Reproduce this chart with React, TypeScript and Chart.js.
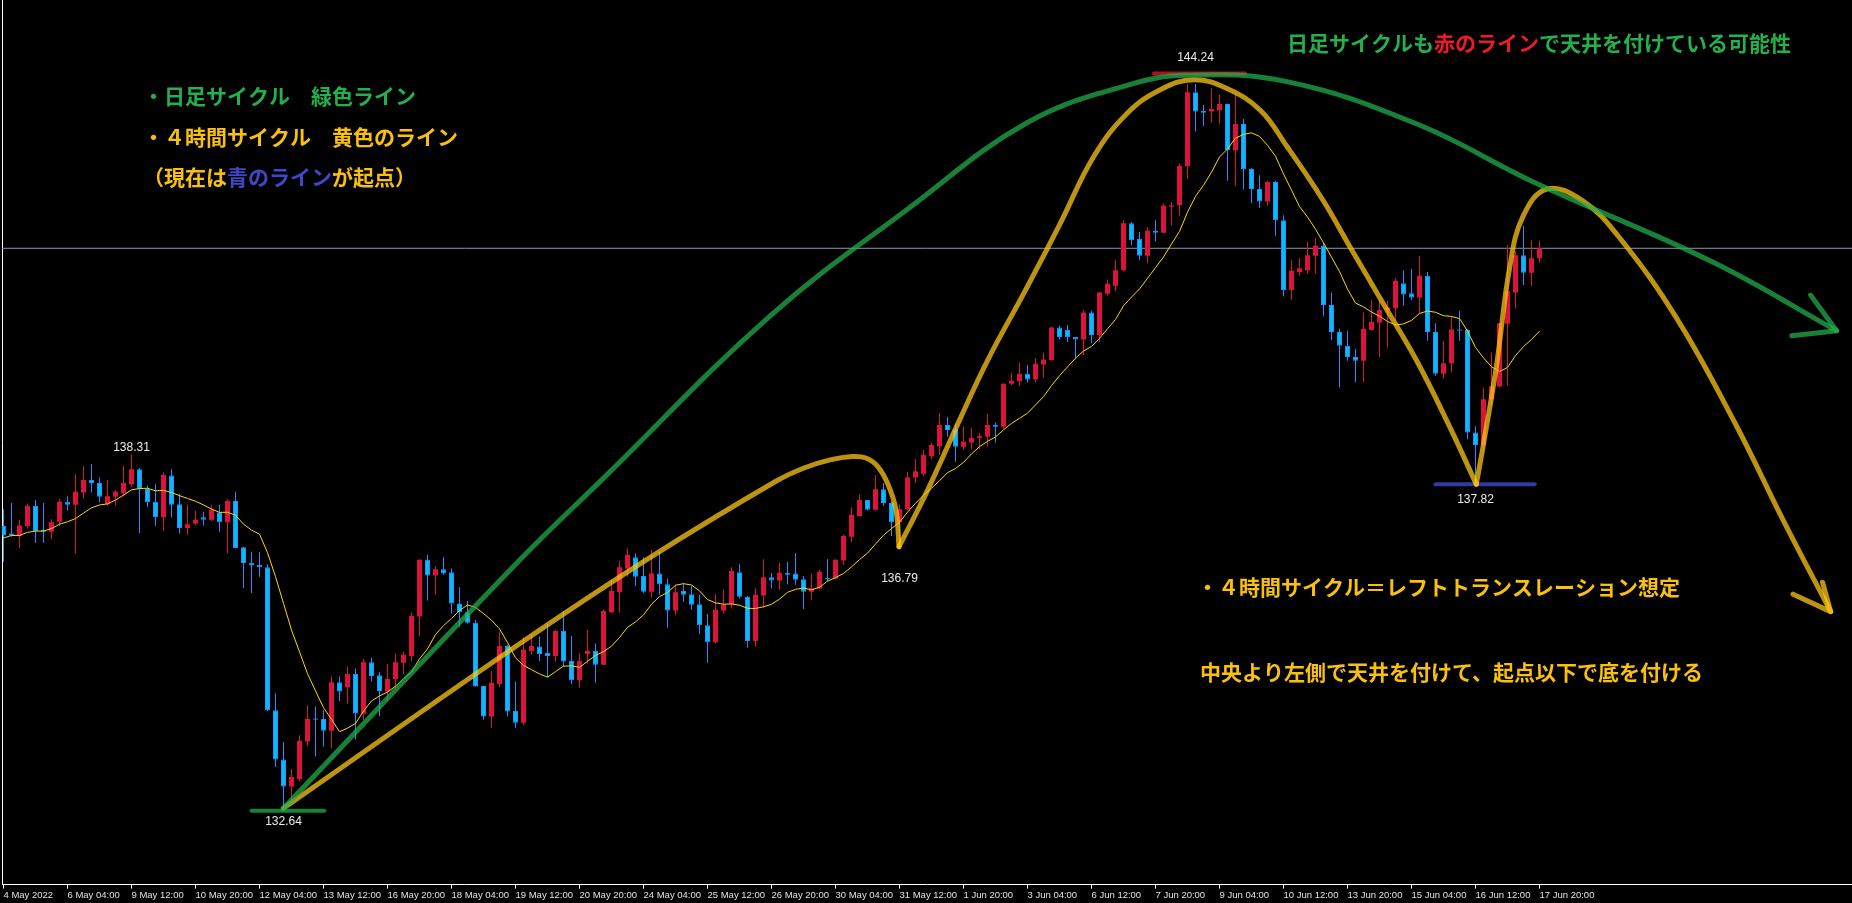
import React, { useEffect, useRef } from 'react';
import { Chart, registerables } from 'chart.js';

Chart.register(...registerables);

// ---------- DATA (EURJPY H4) ----------
const opens = [
  137.16,137.04,137.00,137.16,137.48,137.10,137.07,137.23,137.55,137.50,
  137.70,137.90,137.85,137.51,137.63,137.69,137.83,138.07,137.76,137.55,
  137.30,137.97,137.51,137.13,137.20,137.30,137.26,137.38,137.22,137.56,
  136.82,136.57,136.54,136.50,134.21,133.42,132.99,133.11,133.71,134.08,
  134.07,133.88,134.66,134.58,134.79,134.16,134.98,134.77,134.51,134.71,
  134.97,135.08,135.71,136.62,136.37,136.47,136.42,135.92,135.78,135.61,
  134.60,134.11,134.63,135.24,134.20,134.01,135.16,135.23,135.13,135.08,
  135.48,135.00,134.69,135.11,135.16,134.94,135.78,136.10,136.48,136.66,
  136.36,136.11,136.40,136.23,135.81,136.12,136.07,135.91,135.57,135.30,
  135.81,135.91,136.42,136.03,135.32,136.05,136.34,136.29,136.41,136.40,
  136.31,136.11,136.16,136.33,136.32,136.61,136.99,137.32,137.58,137.42,
  137.75,137.53,137.22,137.43,137.94,138.00,138.28,138.44,138.78,138.71,
  138.43,138.50,138.57,138.59,138.78,138.75,139.44,139.48,139.60,139.51,
  139.75,139.82,140.34,140.30,140.19,140.15,140.58,140.22,140.88,141.01,
  141.26,142.01,141.76,141.49,141.89,141.86,142.28,142.30,142.93,144.11,
  143.81,143.80,143.82,143.92,143.18,143.60,142.88,142.56,142.36,142.67,
  142.06,140.94,141.23,141.26,141.49,141.65,140.70,140.27,140.05,139.87,
  139.81,140.30,140.42,140.62,140.65,141.05,140.89,140.82,141.17,140.27,
  139.60,139.77,140.31,140.30,138.66,138.46,139.19,139.40,140.40,140.90,
  141.50,141.22,141.45,
];
const highs = [
  137.43,137.53,137.26,137.52,137.58,137.53,137.27,137.60,137.64,137.99,
  138.12,138.15,137.94,137.90,137.74,138.12,138.31,138.09,137.81,137.83,
  138.02,138.07,137.68,137.50,137.40,137.39,137.50,137.50,137.59,137.71,
  136.83,136.74,136.74,136.55,134.48,133.70,133.27,133.81,134.29,134.27,
  134.21,134.75,134.75,134.91,134.88,135.03,135.05,134.82,134.95,135.12,
  135.15,135.78,136.63,136.70,136.52,136.66,136.48,136.18,135.96,135.66,
  134.60,134.84,135.47,135.26,134.67,135.38,135.43,135.39,135.59,135.50,
  135.80,135.40,135.12,135.50,135.28,135.83,136.30,136.60,136.80,136.72,
  136.66,136.78,136.75,136.32,136.22,136.24,136.20,136.06,135.75,136.07,
  136.15,136.50,136.55,136.04,136.16,136.63,136.41,136.57,136.59,136.73,
  136.36,136.40,136.46,136.63,136.63,137.02,137.46,137.67,137.58,137.98,
  137.85,137.55,137.51,138.03,138.23,138.38,138.50,138.97,138.91,138.80,
  138.76,138.73,138.65,138.96,138.82,139.45,139.61,139.78,139.74,139.85,
  139.94,140.35,140.37,140.38,140.19,140.62,140.61,140.91,141.11,141.42,
  142.06,142.03,141.87,141.95,142.06,142.33,142.35,142.97,144.24,144.24,
  143.91,144.17,144.07,143.93,144.08,143.68,142.89,142.78,142.69,142.69,
  142.14,141.42,141.45,141.72,141.78,141.70,140.90,140.32,140.29,140.00,
  140.58,140.78,140.78,140.77,141.13,141.26,141.28,141.49,141.23,140.41,
  140.13,140.51,140.61,140.31,138.76,139.37,139.94,140.41,141.66,141.56,
  141.97,141.74,141.73,
];
const lows = [
  136.59,136.99,136.81,137.12,136.89,136.89,136.95,137.16,137.41,136.72,
  137.60,137.70,137.54,137.49,137.49,137.64,137.79,137.05,137.46,137.16,
  137.08,137.30,137.04,137.02,137.17,137.17,137.24,137.07,136.73,136.81,
  136.17,136.09,136.35,134.20,133.30,132.64,132.77,133.07,133.64,133.47,
  133.63,133.60,134.36,134.32,133.74,134.05,134.67,134.12,134.36,134.56,
  134.79,135.00,135.40,135.97,136.06,136.38,135.76,135.55,135.60,134.59,
  134.06,133.93,134.58,134.11,133.92,133.97,135.10,135.00,134.74,134.99,
  134.91,134.63,134.57,134.96,134.65,134.94,135.77,135.77,136.35,136.20,
  136.09,136.02,136.06,135.53,135.73,135.95,135.82,135.43,134.97,135.28,
  135.76,135.84,136.00,135.21,135.23,135.84,136.16,136.14,136.23,136.22,
  135.83,135.98,136.15,136.27,136.31,136.54,136.90,137.31,137.41,137.41,
  137.48,137.00,136.79,137.41,137.85,137.96,138.23,138.30,138.59,138.19,
  138.38,138.39,138.39,138.44,138.50,138.72,139.42,139.40,139.46,139.46,
  139.54,139.81,140.15,140.11,139.83,139.90,140.09,140.11,140.85,140.92,
  141.25,141.66,141.42,141.37,141.72,141.86,141.98,142.13,142.72,143.48,
  143.57,143.62,143.61,142.69,142.61,142.55,142.33,142.26,142.29,141.81,
  140.84,140.78,141.17,141.20,141.20,140.52,140.14,139.38,139.81,139.47,
  139.47,140.29,139.87,140.02,140.45,140.69,140.78,140.57,140.13,139.57,
  139.52,139.62,140.13,138.55,137.82,138.41,139.10,139.38,139.41,140.65,
  141.02,141.00,141.38,
];
const closes = [
  137.01,137.01,137.17,137.48,137.08,137.07,137.22,137.55,137.50,137.71,
  137.90,137.85,137.63,137.64,137.71,137.85,138.07,137.76,137.54,137.30,
  137.98,137.50,137.13,137.19,137.26,137.26,137.42,137.22,137.56,136.81,
  136.57,136.53,136.50,134.21,133.42,132.99,133.14,133.72,134.07,134.06,
  133.88,134.66,134.51,134.79,134.16,134.98,134.76,134.52,134.71,134.98,
  135.10,135.72,136.62,136.37,136.47,136.40,135.92,135.78,135.61,134.59,
  134.11,134.65,135.24,134.19,134.01,135.18,135.24,135.11,135.08,135.48,
  134.99,134.69,135.00,135.16,134.94,135.80,136.12,136.50,136.70,136.35,
  136.11,136.40,136.23,135.81,136.10,136.06,135.90,135.57,135.30,135.82,
  135.90,136.44,136.03,135.32,136.06,136.34,136.29,136.41,136.38,136.30,
  136.11,136.16,136.43,136.31,136.62,137.00,137.34,137.58,137.42,137.75,
  137.53,137.22,137.43,137.94,138.04,138.30,138.46,138.78,138.70,138.43,
  138.51,138.57,138.60,138.78,138.75,139.44,139.49,139.60,139.51,139.76,
  139.83,140.34,140.19,140.19,140.15,140.58,140.22,140.90,141.04,141.26,
  142.01,141.74,141.49,141.89,141.86,142.29,142.30,142.93,144.11,143.80,
  143.78,143.84,143.92,143.18,143.60,142.88,142.56,142.36,142.67,142.06,
  140.94,141.25,141.29,141.50,141.65,140.70,140.27,140.05,139.87,139.81,
  140.32,140.43,140.62,140.66,141.09,140.87,140.82,141.17,140.27,139.60,
  139.77,140.31,140.29,138.66,138.46,139.19,139.40,140.41,140.92,141.50,
  141.22,141.45,141.61,
];

// moving average (period 10); values before the first full window
const MA_PERIOD = 10;
const maLead = [136.97, 137.01, 137.01, 137.06, 137.08, 137.08, 137.12, 137.19, 137.23];

// x-axis labels, one every 8 bars
const TICK_STEP = 8;
const tickLabels = [
  '4 May 2022', '6 May 04:00', '9 May 12:00', '10 May 20:00', '12 May 04:00', '13 May 12:00',
  '16 May 20:00', '18 May 04:00', '19 May 12:00', '20 May 20:00', '24 May 04:00', '25 May 12:00',
  '26 May 20:00', '30 May 04:00', '31 May 12:00', '1 Jun 20:00', '3 Jun 04:00', '6 Jun 12:00',
  '7 Jun 20:00', '9 Jun 04:00', '10 Jun 12:00', '13 Jun 20:00', '15 Jun 04:00', '16 Jun 12:00',
  '17 Jun 20:00',
];

// marked highs / lows: bar index and price
const markIdx = [16, 35, 112, 149, 184];
const markValue = [138.31, 132.64, 136.79, 144.24, 137.82];

// hand-drawn cycle lines: [bar index, price]
const greenArcPts = [
  [35.0, 132.64], [64.56, 136.62], [74.78, 137.90], [95.94, 140.54],
  [113.25, 142.26], [127.94, 143.62], [140.44, 144.22], [147.94, 144.38], [160.44, 144.28],
  [176.69, 143.60], [191.44, 142.66], [213.64, 141.39], [229.14, 140.29],
];
const greenArrowPts = [[225.89, 140.86], [229.14, 140.29], [223.53, 140.21]];
const greenBasePts = [[31.0, 132.60], [40.1, 132.60]];
const yellowAPts = [
  [34.98, 132.64], [64.56, 135.28], [80.6, 136.64], [96.44, 137.87], [100.06, 138.09],
  [103.31, 138.22], [106.06, 138.275], [107.81, 138.25], [109.31, 138.11], [110.56, 137.83],
  [111.56, 137.42], [111.94, 136.83],
];
const yellowBPts = [
  [111.94, 136.83], [115.53, 137.74], [119.69, 138.91], [123.03, 139.82], [127.75, 140.94],
  [132.1, 142.01], [136.28, 143.08], [140.44, 143.77], [144.6, 144.15], [148.78, 144.31],
  [152.94, 144.17], [157.1, 143.82], [160.44, 143.24], [164.94, 142.38], [168.28, 141.64],
  [172.44, 140.73], [176.6, 139.82], [180.78, 138.75], [184.1, 137.83],
];
const yellowCPts = [
  [184.1, 137.83], [184.94, 138.43], [186.6, 139.71], [188.28, 141.31], [189.94, 142.12],
  [192.94, 142.56], [197.4, 142.37], [201.81, 141.81], [209.19, 140.48], [216.56, 138.78],
  [222.44, 137.26], [228.4, 135.79],
];
const yellowArrowPts = [[223.69, 136.07], [228.4, 135.79], [227.38, 136.26]];
const redTopPts = [[143.8, 144.41], [155.2, 144.41]];
const blueBasePts = [[179.0, 137.83], [191.4, 137.83]];

// notes (text segments and colour keys)
const noteLines = [
  [['・日足サイクル　緑色ライン', 'green']],
  [['・４時間サイクル　黄色のライン', 'gold']],
  [['（現在は', 'gold'], ['青のライン', 'blue'], ['が起点）', 'gold']],
  [['日足サイクルも', 'green'], ['赤のライン', 'red'], ['で天井を付けている可能性', 'green']],
  [['・４時間サイクル＝レフトトランスレーション想定', 'gold']],
  [['中央より左側で天井を付けて、起点以下で底を付ける', 'gold']],
];

// ---------- STYLE / LAYOUT ----------
const W = 1852;
const H = 903;
const X_MIN = -0.1875;
const X_MAX = 231.0625;
const Y_MIN = 131.4167;
const Y_MAX = 145.587;
const textColors: Record<string, string> = {
  green: '#22B14C', gold: '#F9C00C', blue: '#3F48CC', red: '#ED1C24',
};
const notePos = [[143, 96], [143, 137], [143, 177], [1287, 43], [1197, 587], [1200, 672]];
const markDy = [-7, 13.5, 29.5, -26, 15];

const UP_BODY = '#DC143C';
const DOWN_BODY = '#00BFFF';
const DOWN_WICK = '#1E90FF';
const GREEN_LINE = 'rgba(34,177,76,0.72)';
const YELLOW_LINE = 'rgba(255,200,20,0.74)';

const toXY = (pts: number[][]) => pts.map(([x, y]) => ({ x, y }));

const overlayPlugin = {
  id: 'overlayText',
  afterDatasetsDraw(chart: any) {
    const { ctx, scales } = chart;
    const xs = scales.x;
    const ys = scales.y;
    ctx.save();
    ctx.font = '12px "Liberation Sans", Arial, sans-serif';
    ctx.fillStyle = '#ececec';
    ctx.textAlign = 'center';
    ctx.textBaseline = 'middle';
    markIdx.forEach((m, k) => {
      ctx.fillText(markValue[k].toFixed(2), xs.getPixelForValue(m), ys.getPixelForValue(markValue[k]) + markDy[k]);
    });
    ctx.font = 'bold 21px "Noto Sans CJK JP", "Noto Sans CJK SC", sans-serif';
    ctx.textAlign = 'left';
    noteLines.forEach((segs, k) => {
      let px = notePos[k][0];
      const py = notePos[k][1];
      segs.forEach(([t, c]) => {
        ctx.fillStyle = textColors[c];
        ctx.fillText(t, px, py);
        px += ctx.measureText(t).width;
      });
    });
    ctx.restore();
  },
};

export default function App() {
  const ref = useRef<HTMLCanvasElement | null>(null);

  useEffect(() => {
    document.body.style.margin = '0';
    document.body.style.background = '#000';
    if (!ref.current) return;

    const idx = closes.map((_, i) => i);
    const up = idx.map((i) => closes[i] >= opens[i]);
    const maValues = idx.map((i) => {
      if (i < MA_PERIOD - 1) return maLead[i];
      let s = 0;
      for (let k = i - MA_PERIOD + 1; k <= i; k++) s += closes[k];
      return s / MA_PERIOD;
    });
    const lastClose = closes[closes.length - 1];
    const tickValues = tickLabels.map((_, k) => k * TICK_STEP);

    const lineBase = {
      type: 'line' as const,
      pointRadius: 0,
      fill: false,
      borderCapStyle: 'round' as const,
      borderJoinStyle: 'round' as const,
    };

    const chart = new Chart(ref.current, {
      type: 'bar',
      data: {
        datasets: [
          // hand-drawn annotations (top)
          { ...lineBase, data: toXY(greenArcPts), borderColor: GREEN_LINE, borderWidth: 5, tension: 0.4, order: 0 },
          { ...lineBase, data: toXY(greenArrowPts), borderColor: GREEN_LINE, borderWidth: 5, tension: 0, order: 0 },
          { ...lineBase, data: toXY(greenBasePts), borderColor: GREEN_LINE, borderWidth: 4, tension: 0, order: 0 },
          { ...lineBase, data: toXY(yellowAPts), borderColor: YELLOW_LINE, borderWidth: 5, tension: 0.4, order: 0 },
          { ...lineBase, data: toXY(yellowBPts), borderColor: YELLOW_LINE, borderWidth: 5, tension: 0.4, order: 0 },
          { ...lineBase, data: toXY(yellowCPts), borderColor: YELLOW_LINE, borderWidth: 5, tension: 0.4, order: 0 },
          { ...lineBase, data: toXY(yellowArrowPts), borderColor: YELLOW_LINE, borderWidth: 5, tension: 0, order: 0 },
          { ...lineBase, data: toXY(redTopPts), borderColor: 'rgba(237,28,36,0.72)', borderWidth: 4, tension: 0, order: 0 },
          { ...lineBase, data: toXY(blueBasePts), borderColor: 'rgba(63,72,204,0.8)', borderWidth: 4, tension: 0, order: 0 },
          // moving average
          { ...lineBase, data: idx.map((i) => ({ x: i, y: maValues[i] })), borderColor: '#FFD700', borderWidth: 1, tension: 0, order: 1 },
          // candle bodies
          {
            type: 'bar' as const,
            data: idx.map((i) => ({ x: i, y: [opens[i], closes[i]] })) as any,
            backgroundColor: idx.map((i) => (up[i] ? UP_BODY : DOWN_BODY)),
            borderColor: idx.map((i) => (up[i] ? UP_BODY : DOWN_WICK)),
            borderWidth: idx.map((i) => (up[i] ? 0 : 1)),
            borderSkipped: false,
            barThickness: 5,
            minBarLength: 1,
            grouped: false,
            inflateAmount: 0,
            order: 2,
          },
          // candle wicks
          {
            type: 'bar' as const,
            data: idx.map((i) => ({ x: i, y: [lows[i], highs[i]] })) as any,
            backgroundColor: idx.map((i) => (up[i] ? UP_BODY : DOWN_WICK)),
            borderWidth: 0,
            barThickness: 1,
            grouped: false,
            inflateAmount: 0,
            order: 3,
          },
          // bid line
          { ...lineBase, data: [{ x: X_MIN, y: lastClose }, { x: X_MAX, y: lastClose }], borderColor: '#8A96A8', borderWidth: 1, tension: 0, order: 4 },
        ] as any,
      },
      options: {
        responsive: false,
        animation: false,
        devicePixelRatio: 1,
        events: [],
        layout: { padding: { left: 2, right: 0, top: 0, bottom: 0 } },
        plugins: {
          legend: { display: false },
          tooltip: { enabled: false },
          title: { display: false },
        },
        scales: {
          x: {
            type: 'linear',
            position: 'bottom',
            min: X_MIN,
            max: X_MAX,
            offset: false,
            afterBuildTicks: (axis: any) => {
              axis.ticks = tickValues.map((v) => ({ value: v }));
            },
            ticks: {
              autoSkip: false,
              maxRotation: 0,
              minRotation: 0,
              align: 'start',
              padding: 1,
              color: '#e2e2e2',
              font: { family: '"Liberation Sans", Arial, sans-serif', size: 9.5, lineHeight: 1.3 },
              callback: (_v: any, i: number) => tickLabels[i],
            },
            grid: { display: true, drawOnChartArea: false, drawTicks: true, tickLength: 4, color: '#ffffff', offset: false },
            border: { display: true, color: '#ffffff', width: 1 },
          },
          y: {
            type: 'linear',
            position: 'left',
            min: Y_MIN,
            max: Y_MAX,
            ticks: { display: false },
            grid: { display: false, drawTicks: false },
            border: { display: true, color: '#ffffff', width: 1 },
          },
        },
      } as any,
      plugins: [overlayPlugin],
    });

    return () => chart.destroy();
  }, []);

  return (
    <div style={{ position: 'relative', width: W, height: H, background: '#000', overflow: 'hidden' }}>
      <canvas ref={ref} width={W} height={H} style={{ display: 'block', width: W, height: H }} />
    </div>
  );
}
